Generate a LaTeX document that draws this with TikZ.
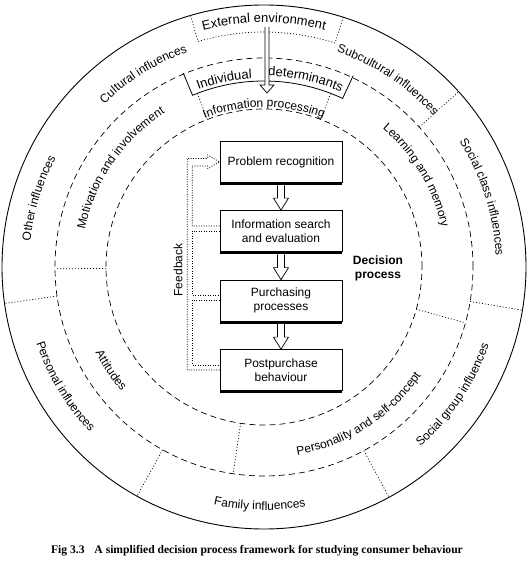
\documentclass[tikz,border=0pt]{standalone}
\usepackage{fontspec}
\setmainfont{Liberation Sans}
\newfontfamily\capfont{Liberation Serif}
\usetikzlibrary{decorations.text,calc}
\newcommand\openarr[5]{\draw[openarrow] let \p1=(#1),\p2=(#2) in (\x1-#3,\y1) -- (\x1-#3,\y2+#5) -- (\x1-#4,\y2+#5) -- (\x1,\y2) -- (\x1+#4,\y2+#5) -- (\x1+#3,\y2+#5) -- (\x1+#3,\y1);}
\newcommand\cwtext[4]{\path[decorate,decoration={text along path,text align=center,text={|\fontsize{#3}{#3}\selectfont|#4}}] ([shift={(#1+80:#2)}]C) arc[start angle=#1+80,end angle=#1-80,radius=#2];}
\newcommand\ccwtext[4]{\path[decorate,decoration={text along path,text align=center,text={|\fontsize{#3}{#3}\selectfont|#4}}] ([shift={(#1-80:#2)}]C) arc[start angle=#1-80,end angle=#1+80,radius=#2];}
\begin{document}
\begin{tikzpicture}[x=1pt,y=1pt,
  ring/.style={line width=0.9pt},
  dashring/.style={line width=0.7pt,dash pattern=on 6pt off 4pt},
  sep/.style={line width=0.7pt,dash pattern=on 1pt off 2pt},
  fb/.style={line width=0.7pt,dash pattern=on 1pt off 1.5pt},
  stepbox/.style={draw,line width=0.7pt,minimum width=122pt,minimum height=41pt,align=center,inner sep=2pt,font=\fontsize{12}{14}\selectfont},
  openarrow/.style={draw,fill=white,line width=0.7pt}]
\useasboundingbox (0,0) rectangle (528,568);
\fill[white] (0,0) rectangle (528,568);
\coordinate (C) at (264,301);
% rings
\draw[ring] (C) circle[radius=262];
\draw[dashring] (C) circle[radius=209];
\draw[dashring] (C) circle[radius=158];
% outer ring separators
\foreach \a in {42,-9.5,-61.5,241,188}
  \draw[sep] ([shift={(\a:209)}]C) -- ([shift={(\a:262)}]C);
% middle ring separators
\foreach \a in {180.5,344.5,261.5}
  \draw[sep] ([shift={(\a:158)}]C) -- ([shift={(\a:209)}]C);
% external environment box
\draw[sep] ([shift={(106.3:262)}]C) -- ([shift={(106.3:235)}]C) arc[start angle=106.3,end angle=72.4,radius=235] -- ([shift={(72.4:262)}]C);
% individual determinants box
\draw[line width=0.8pt] ([shift={(112.6:210)}]C) -- ([shift={(112.6:186)}]C) arc[start angle=112.6,end angle=65,radius=186] -- ([shift={(65:211)}]C);
% information processing sides
\draw[sep] ([shift={(111:158)}]C) -- ([shift={(111:186)}]C);
\draw[sep] ([shift={(69:158)}]C) -- ([shift={(69:186)}]C);
% outer ring texts
\cwtext{90}{244.5}{13}{External environment}
\cwtext{122}{228}{12}{Cultural influences}
\cwtext{56.5}{227}{12}{Subcultural influences}
\cwtext{17.7}{232}{12}{Social class influences}
\ccwtext{-34}{238}{12}{Social group influences}
\ccwtext{269}{243}{12}{Family influences}
\ccwtext{211}{240}{12}{Personal influences}
\cwtext{163}{235}{12}{Other influences}
% middle ring texts
\cwtext{145.5}{183}{12}{Motivation and involvement}
\cwtext{31}{182}{12}{Learning and memory}
\ccwtext{-57.3}{191}{12}{Personality and self-concept}
\ccwtext{214}{189}{12}{Attitudes}
\cwtext{102}{189}{13}{Individual}
\cwtext{77.5}{191}{13}{determinants}
\cwtext{90}{160}{12}{Information processing}
% external arrow
\coordinate (extfoot) at (267,541);
\coordinate (iptop) at (267,475);
\openarr{extfoot}{iptop}{2pt}{7pt}{8pt}
% decision boxes
\node[stepbox] (b1) at (281,406) {Problem recognition};
\node[stepbox] (b2) at (281,337) {Information search\\and evaluation};
\node[stepbox] (b3) at (281,267.5) {Purchasing\\processes};
\node[stepbox] (b4) at (281,198) {Postpurchase\\behaviour};
\foreach \b in {b1,b2,b3,b4}
  \draw[line width=2.5pt] ([yshift=-1.2pt]\b.south west) -- ([yshift=-1.2pt]\b.south east);
\openarr{$(b1.south)+(0,-2.5)$}{b2.north}{3.5pt}{7.5pt}{12pt}
\openarr{$(b2.south)+(0,-2.5)$}{b3.north}{3.5pt}{7.5pt}{12pt}
\openarr{$(b3.south)+(0,-2.5)$}{b4.north}{3.5pt}{7.5pt}{12pt}
% feedback
\draw[fb] (b4.west) -- ++(-32.5,0) |- ($(b1.west)+(-12,3.5)$) -- ++(0,3.5) -- (b1.west) -- ++(-12,-6.5) -- ++(0,2.5) -| ($(b2.west)+(-27.5,5)$) -- ($(b2.west)+(0,5)$);
\draw[fb] (b2.west) -- ++(-27.5,0) |- ($(b3.west)+(0,5)$);
\draw[fb] (b3.west) -- ++(-27.5,0) |- ($(b4.west)+(0,5)$);
\node[rotate=90,font=\fontsize{12}{14}\selectfont] (fbl) at (178,298) {Feedback};
\node[align=center,font=\bfseries\fontsize{12}{14}\selectfont] (dp) at (378,300) {Decision\\process};
% caption
\node[font=\capfont\bfseries\fontsize{11.6}{13}\selectfont] (cap) at (257,17) {Fig 3.3\hspace{0.6em} A simplified decision process framework for studying consumer behaviour};
\end{tikzpicture}
\end{document}
